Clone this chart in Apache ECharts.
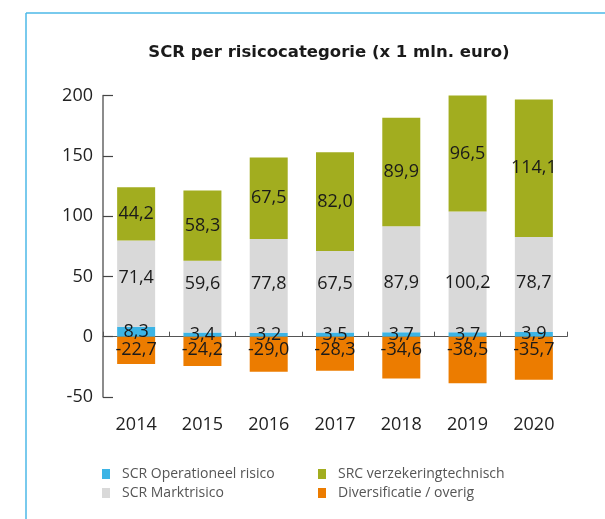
<!DOCTYPE html>
<html>
<head>
<meta charset="utf-8">
<script src="https://cdn.jsdelivr.net/npm/echarts@6/dist/echarts.min.js"></script>
<style>
html,body{margin:0;padding:0;background:#fff;}
#chart{width:605px;height:519px;}
</style>
</head>
<body>
<div id="chart"></div>
<script>
const years = ['2014','2015','2016','2017','2018','2019','2020'];
const operationeel = [8.3, 3.4, 3.2, 3.5, 3.7, 3.7, 3.9];
const markt = [71.4, 59.6, 77.8, 67.5, 87.9, 100.2, 78.7];
const verzekering = [44.2, 58.3, 67.5, 82.0, 89.9, 96.5, 114.1];
const diversificatie = [-22.7, -24.2, -29.0, -28.3, -34.6, -38.5, -35.7];
const yTicks = { min: -50, max: 200, interval: 50 };

const FONT = '"Open Sans", sans-serif';
const fmt = p => p.value.toFixed(1).replace('.', ',');
const lbl = (pos, extra) => Object.assign({
  show: true, position: pos, formatter: fmt,
  fontFamily: FONT, fontSize: 18, color: '#1a1a1a'
}, extra || {});
const legendText = { fontFamily: FONT, fontSize: 14, color: '#555', padding: [0, 0, 0, 7], lineHeight: 14 };

const chart = echarts.init(document.getElementById('chart'), null, {renderer: 'canvas'});
chart.setOption({
  animation: false,
  backgroundColor: '#ffffff',
  textStyle: { fontFamily: FONT },
  graphic: [
    { type: 'line', shape: { x1: 26, y1: 13, x2: 605, y2: 13 }, style: { stroke: '#4cb9e7', lineWidth: 1.5 } },
    { type: 'line', shape: { x1: 26, y1: 13, x2: 26, y2: 519 }, style: { stroke: '#4cb9e7', lineWidth: 1.5 } }
  ],
  title: {
    text: 'SCR per risicocategorie (x 1 mln. euro)',
    left: 324, textAlign: 'center', top: 39,
    textStyle: { fontFamily: '"DejaVu Sans", sans-serif', fontSize: 16.5, fontWeight: 'bold', color: '#1a1a1a' }
  },
  legend: [
    {
      data: ['SCR Operationeel risico', 'SCR Marktrisico'],
      orient: 'vertical', left: 102, top: 467, padding: 0, icon: 'rect',
      itemWidth: 8, itemHeight: 10, itemGap: 5,
      textStyle: legendText
    },
    {
      data: ['SRC verzekeringtechnisch', 'Diversificatie / overig'],
      orient: 'vertical', left: 318, top: 467, padding: 0, icon: 'rect',
      itemWidth: 8, itemHeight: 10, itemGap: 5,
      textStyle: legendText
    }
  ],
  grid: { left: 103, right: 38, top: 95.5, bottom: 122 },
  xAxis: [
    {
      type: 'category', data: years,
      axisLine: { onZero: true, lineStyle: { color: '#555', width: 1 } },
      axisTick: { show: true, inside: true, length: 5, lineStyle: { color: '#555' } },
      axisLabel: { show: false }
    },
    {
      type: 'category', data: years, position: 'bottom',
      axisLine: { show: false, onZero: false },
      axisTick: { show: false },
      axisLabel: { fontFamily: FONT, fontSize: 18, color: '#222', margin: 19 }
    }
  ],
  yAxis: {
    type: 'value', min: yTicks.min, max: yTicks.max, interval: yTicks.interval,
    splitLine: { show: false },
    axisLine: { show: true, lineStyle: { color: '#666', width: 1.5 } },
    axisTick: { show: true, inside: true, length: 10, lineStyle: { color: '#444', width: 1.2 } },
    axisLabel: { fontFamily: FONT, fontSize: 18, color: '#222', margin: 10 }
  },
  series: [
    {
      name: 'SCR Operationeel risico', type: 'bar', stack: 'scr', barWidth: 38,
      data: operationeel, itemStyle: { color: '#3cb4e5' },
      label: lbl('inside')
    },
    {
      name: 'SCR Marktrisico', type: 'bar', stack: 'scr', barWidth: 38,
      data: markt, itemStyle: { color: '#d9d9d9' },
      label: lbl('insideBottom', { distance: 40 })
    },
    {
      name: 'SRC verzekeringtechnisch', type: 'bar', stack: 'scr', barWidth: 38,
      data: verzekering, itemStyle: { color: '#a2ad1f' },
      label: lbl('inside')
    },
    {
      name: 'Diversificatie / overig', type: 'bar', stack: 'scr', barWidth: 38,
      data: diversificatie, itemStyle: { color: '#ec7c00' },
      label: lbl('insideTop', { distance: 4 })
    }
  ]
});
</script>
</body>
</html>
